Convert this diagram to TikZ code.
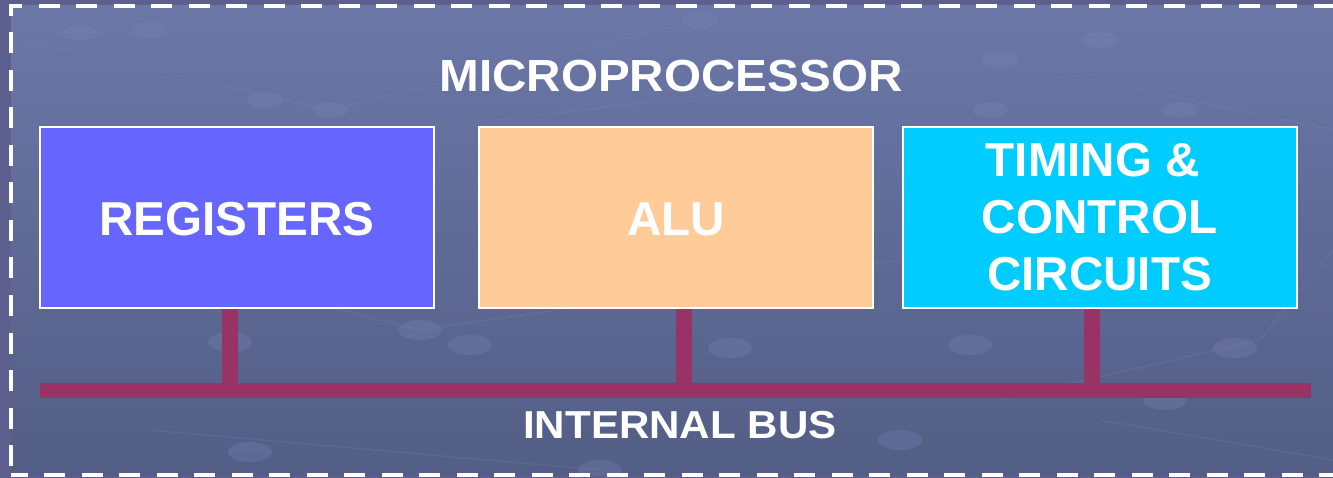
\documentclass[tikz,border=0pt]{standalone}
\usepackage{fontspec}
\setmainfont{Liberation Sans}
\usetikzlibrary{calc}
\definecolor{outerbg}{HTML}{5D5F8F}
\definecolor{bgtop}{HTML}{6B77A7}
\definecolor{bgbot}{HTML}{535E86}
\definecolor{regc}{HTML}{6666FF}
\definecolor{aluc}{HTML}{FFCC99}
\definecolor{timc}{HTML}{00CCFF}
\definecolor{busc}{HTML}{993366}
\definecolor{dotc}{HTML}{7A86B4}
\tikzset{
  unitbox/.style={draw=white, line width=2pt, minimum width=394pt, minimum height=181pt, inner sep=0pt},
  lbl/.style={text=white, font=\fontsize{47.6pt}{57pt}\selectfont\bfseries, inner sep=0pt},
  busline/.style={draw=busc, line width=15.5pt},
  stub/.style={draw=busc, line width=16pt},
  deco/.style={fill=dotc, opacity=0.3},
  decoline/.style={draw=dotc, opacity=0.25, line width=1.2pt}
}
\begin{document}
\begin{tikzpicture}[x=1pt,y=-1pt]
\useasboundingbox (0,0) rectangle (1333,478);
\fill[outerbg] (0,0) rectangle (1333,478);
\shade[top color=bgtop, bottom color=bgbot] (11,6) rectangle (1333,475);
% faint background pattern
\begin{scope}
\clip (11,6) rectangle (1333,475);
\draw[decoline] (20,40) -- (330,110) -- (700,20);
\draw[decoline] (60,240) -- (420,330) -- (900,260);
\draw[decoline] (500,120) -- (1000,60) -- (1333,130);
\draw[decoline] (1000,400) -- (1260,340) -- (1333,250);
\draw[decoline] (1100,420) -- (1333,460);
\draw[decoline] (150,430) -- (600,470);
\fill[deco] (80,33) ellipse (18 and 8);
\fill[deco] (150,30) ellipse (18 and 8);
\fill[deco] (265,100) ellipse (18 and 8);
\fill[deco] (330,110) ellipse (18 and 8);
\fill[deco] (100,135) ellipse (18 and 8);
\fill[deco] (700,20) ellipse (18 and 8);
\fill[deco] (1000,60) ellipse (18 and 8);
\fill[deco] (1100,40) ellipse (18 and 8);
\fill[deco] (1180,110) ellipse (18 and 8);
\fill[deco] (990,110) ellipse (18 and 8);
\fill[deco] (230,342) ellipse (22 and 10);
\fill[deco] (420,330) ellipse (22 and 10);
\fill[deco] (470,345) ellipse (22 and 10);
\fill[deco] (730,348) ellipse (22 and 10);
\fill[deco] (970,345) ellipse (22 and 10);
\fill[deco] (1235,348) ellipse (22 and 10);
\fill[deco] (1165,400) ellipse (22 and 10);
\fill[deco] (250,452) ellipse (22 and 10);
\fill[deco] (600,470) ellipse (22 and 10);
\fill[deco] (900,440) ellipse (22 and 10);
\end{scope}
% dashed frame
\draw[white, line width=4.5pt, dash pattern=on 21pt off 16.5pt, dash phase=-9pt] (11,475) -- (11,6) -- (1336,6) -- (1336,475) -- cycle;
% title
\node[lbl, font=\fontsize{45pt}{54pt}\selectfont\bfseries, xscale=1.058] (title) at (671,76) {MICROPROCESSOR};
% units
\node[unitbox, fill=regc] (reg) at (237,217.5) {};
\node[unitbox, fill=aluc] (alu) at (676,217.5) {};
\node[unitbox, fill=timc] (tim) at (1099.5,217.5) {};
\node[lbl] (regt) at ([yshift=-1.5pt]reg.center) {REGISTERS};
\node[lbl] (alut) at ([yshift=-1.5pt]alu.center) {ALU};
\node[lbl, align=center] (timt) at (tim.center) {TIMING \&\hspace*{0.28em}\\CONTROL\\CIRCUITS};
% bus
\coordinate (busL) at (40,390.5);
\coordinate (busR) at (1311,390.5);
\draw[stub] ([xshift=-7pt]reg.south) -- ([xshift=-7pt]reg.south |- busL);
\draw[stub] ([xshift=8pt]alu.south) -- ([xshift=8pt]alu.south |- busL);
\draw[stub] ([xshift=-7.5pt]tim.south) -- ([xshift=-7.5pt]tim.south |- busL);
\draw[busline] (busL) -- (busR);
\node[lbl, font=\fontsize{39pt}{47pt}\selectfont\bfseries, xscale=1.08] (bustext) at (680,425) {INTERNAL BUS};
\end{tikzpicture}
\end{document}
